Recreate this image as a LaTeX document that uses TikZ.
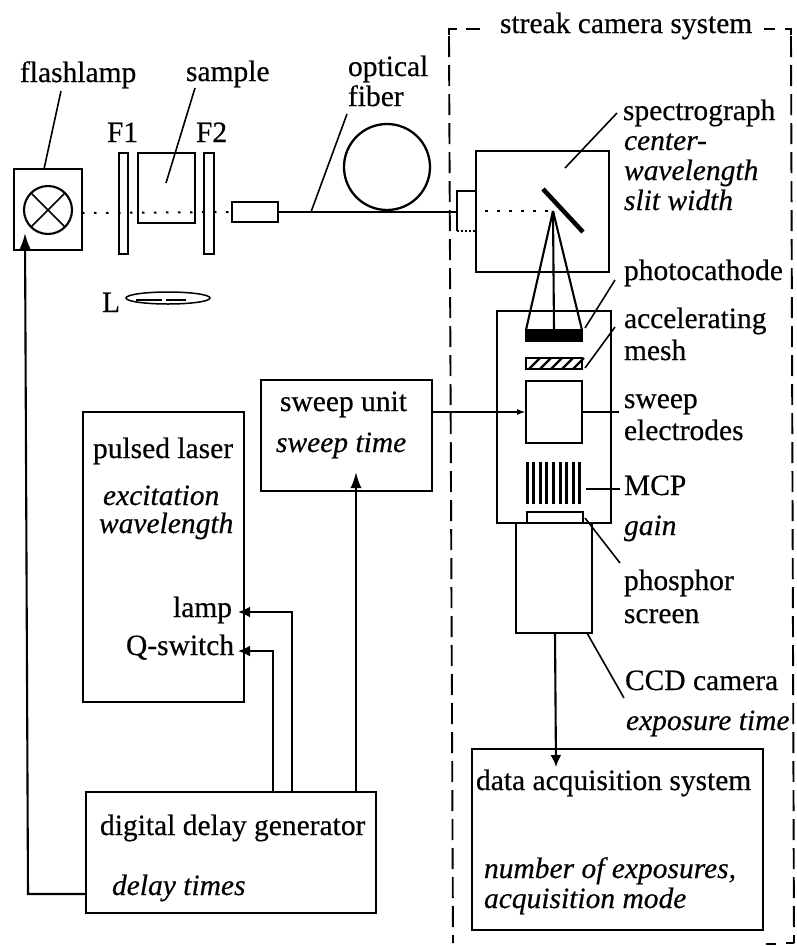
\documentclass[tikz,border=0pt]{standalone}
\usepackage{fontspec}
\setmainfont{Liberation Serif}[RawFeature={embolden=0.4}]
\usetikzlibrary{arrows.meta,shapes.geometric,calc}
\newcommand{\bx}[6][]{\node[boxn,#1,minimum width={(#4)-(#2)},minimum height={(#5)-(#3)}] (#6) at ({((#2)+(#4))/2},{((#3)+(#5))/2}) {};}
\tikzset{
  x=1pt,y=-1pt,
  every path/.style={line width=2.1pt},
  boxn/.style={draw,rectangle,inner sep=0pt,outer sep=0pt,line width=2.1pt},
  lab/.style={anchor=base west,inner sep=0pt,outer sep=0pt,font=\fontsize{29.5}{30}\selectfont},
  ital/.style={lab,font=\fontsize{29.5}{30}\selectfont\itshape},
  lead/.style={line width=1.6pt},
  dots/.style={line width=2pt,dash pattern=on 2.5pt off 9.5pt},
  frame/.style={line width=1.9pt,dash pattern=on 21pt off 8pt},
  big/.style={-{Latex[length=16pt,width=11pt]}},
  mid/.style={-{Latex[length=12pt,width=11pt]}},
  small/.style={-{Latex[length=9pt,width=6pt]}},
}
\begin{document}
\begin{tikzpicture}
\useasboundingbox (0,0) rectangle (797,946);
% optics row
\bx{14}{169}{82}{250}{lampbox}
\node[draw,circle,minimum size=48pt,inner sep=0pt,outer sep=0pt] (lampc) at (48,210) {};
\draw[lead] (lampc.45) -- (lampc.225) (lampc.135) -- (lampc.315);
\bx{119}{153}{128}{254}{fone}
\bx{138}{153}{195}{223}{samp}
\bx{204}{153}{214}{254}{ftwo}
\bx{232}{202}{278}{222}{coupler}
\node[draw,circle,minimum size=86pt,inner sep=0pt,outer sep=0pt,line width=2.3pt] (coil) at (387,167) {};
\node[draw,ellipse,minimum width=84pt,minimum height=12pt,inner sep=0pt,line width=1.5pt] (lens) at (168,298) {};
\draw[line width=2.5pt] (lens.center) ++(-32,2) -- ++(26,0) ++(4,0) -- ++(20,0);
\draw[dots] (lampbox.east |- coupler.west) ++(0,1) -- (coupler.west);
% spectrograph
\bx{476}{151}{609}{272}{spec}
\coordinate (sl1) at (476,191);
\coordinate (sl2) at (457,191);
\coordinate (sl3) at (457,231);
\coordinate (sl4) at (476,231);
\draw (sl1) -- (sl2) -- (sl3);
\draw[line width=1.2pt,dash pattern=on 2pt off 2pt] (sl3) -- (sl4);
\draw[line width=2.4pt] (coupler.east) -- (sl2 |- coupler.east);
\coordinate (mir1) at (543,189);
\coordinate (mir2) at (583,232);
\draw[line width=4.5pt] (mir1) -- (mir2);
\coordinate (apex) at (553,211);
\coordinate (dot0) at (485,211);
\draw[dots] (dot0) -- (apex);
% streak tube
\bx{497}{311}{611}{523}{tube}
\bx[fill=black]{526}{330}{582}{341}{pcath}
\bx{526}{358}{582}{369}{mesh}
\foreach \i in {0,...,4}{\draw[line width=2.4pt] ($(mesh.south west)+(3+\i*11,0)$) -- ++(11,-11);}
\bx{526}{381}{582}{443}{elec}
\bx{527}{512}{583}{523}{phos}
\foreach \i in {0,...,8}{\draw[line width=3pt] (527+\i*6.6,462) -- ++(0,42);}
\node[inner sep=0pt,outer sep=0pt] (mcp) at (582,489) {};
\draw (apex) -- (pcath.north west);
\draw (apex) -- (pcath.north);
\draw (apex) -- (pcath.north east);
\bx{516}{523}{592}{633}{ccd}
\bx{472}{749}{763}{930}{daq}
\bx{261}{380}{432}{491}{sweepu}
\bx{83}{412}{244}{702}{laser}
\bx{86}{792}{376}{913}{delay}
% labels
\node[lab] (tflash) at (20,82) {flashlamp};
\node[lab] (tsamp) at (186,81) {sample};
\node[lab] (topt) at (348,76) {optical};
\node[lab] (tfib) at (348,106) {fiber};
\node[lab] (tf1) at (107,142) {F1};
\node[lab] (tf2) at (196,142) {F2};
\node[lab] (tl) at (102,312) {L};
\node[lab] (tstreak) at (500,33) {streak camera system};
\node[lab] (tspec) at (623,120) {spectrograph};
\node[ital] (tcen) at (624,150) {center-};
\node[ital] (twav) at (624,180) {wavelength};
\node[ital] (tslit) at (624,210) {slit width};
\node[lab] (tpc) at (624,280) {photocathode};
\node[lab] (tacc) at (624,328) {accelerating};
\node[lab] (tmesh) at (624,360) {mesh};
\node[lab] (tsw) at (624,408) {sweep};
\node[lab] (tel) at (624,440) {electrodes};
\node[lab] (tmcp) at (624,495) {MCP};
\node[ital] (tgain) at (624,535) {gain};
\node[lab] (tph) at (624,590) {phosphor};
\node[lab] (tscr) at (624,623) {screen};
\node[lab] (tccd) at (625,690) {CCD camera};
\node[ital] (texp) at (626,730) {exposure time};
\node[lab] (tdaq) at (476,790) {data acquisition system};
\node[ital] (tnum) at (484,878) {number of exposures,};
\node[ital] (tacq) at (484,908) {acquisition mode};
\node[lab] (tsu) at (280,411) {sweep unit};
\node[ital] (tst) at (276,452) {sweep time};
\node[lab] (tpl) at (93,458) {pulsed laser};
\node[ital] (tex) at (103,505) {excitation};
\node[ital] (twl) at (99,533) {wavelength};
\node[lab] (tlamp) at (173,617) {lamp};
\node[lab] (tq) at (126,655) {Q-switch};
\node[lab] (tddg) at (100,835) {digital delay generator};
\node[ital] (tdt) at (112,895) {delay times};
% leaders
\coordinate (a1) at (61,91); \coordinate (a2) at (44,169);
\coordinate (b1) at (195,88); \coordinate (b2) at (166,183);
\coordinate (c1) at (347,114); \coordinate (c2) at (311,212);
\coordinate (d1) at (617,113); \coordinate (d2) at (565,168);
\coordinate (e1) at (615,280); \coordinate (e2) at (585,328);
\coordinate (f1) at (615,327); \coordinate (f2) at (585,368);
\coordinate (g1) at (620,563); \coordinate (g2) at (585,518);
\coordinate (h1) at (624,698); \coordinate (h2) at (587,633);
\foreach \p/\q in {a1/a2,b1/b2,c1/c2,d1/d2,e1/e2,f1/f2,g1/g2,h1/h2}{\draw[lead] (\p) -- (\q);}
\draw[lead] (elec.east) -- ($(tsw.west |- elec.east)+(-5,0)$);
\draw[lead] (mcp) ++(4,0) -- ($(tmcp.west |- mcp)+(-4,0)$);
% signal arrows
\draw[small] (sweepu.east |- elec.west) -- (elec.west);
\coordinate (ccdout) at (555,633);
\coordinate (daqin) at (556,767);
\draw[mid] (ccdout) -- (daqin);
\coordinate (dlamp) at (292,792);
\coordinate (llamp) at (238,612);
\coordinate (dq) at (273,792);
\coordinate (lq) at (238,651);
\draw[mid,line width=2.6pt] (dlamp) |- (llamp);
\draw[mid] (dq) |- (lq);
\coordinate (dsw) at (356,792);
\coordinate (swin) at (356,472);
\draw[big] (dsw) -- (swin);
\coordinate (dfl) at (86,894);
\coordinate (bend) at (28,894);
\coordinate (flin) at (25,233);
\draw[big] (dfl) -- (bend) -- (flin);
% dashed frame
\coordinate (nw) at (449,29);
\coordinate (sw) at (453,943);
\coordinate (ne) at (791,29);
\coordinate (se) at (794,943);
\draw[frame] (nw) ++(0,7) -- (sw);
\draw[frame] (ne) ++(0,7) -- (se);
\draw (nw) ++(8,0) -- (nw) -- ++(0,6);
\draw (ne) ++(-6,0) -- (ne) -- ++(0,6);
\draw (nw) ++(17,0) -- ++(14,0);
\draw (ne) ++(-27,0) -- ++(11,0);
\draw (se) ++(-8,0) -- (se);
\draw (se) ++(-28,1) -- ++(10,0);
\end{tikzpicture}
\end{document}
